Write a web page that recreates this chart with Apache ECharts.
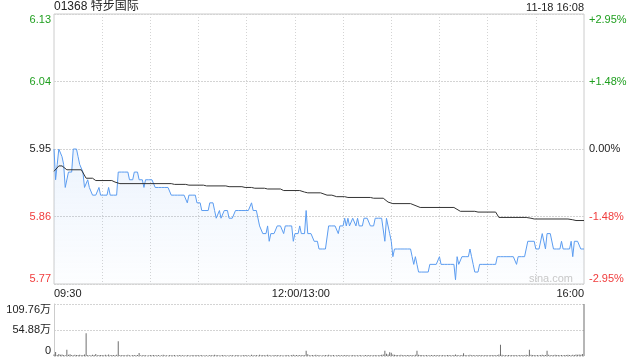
<!DOCTYPE html>
<html><head><meta charset="utf-8">
<script src="https://cdn.jsdelivr.net/npm/echarts@6/dist/echarts.min.js"></script>
<style>html,body{margin:0;padding:0;background:#fff}#c{width:640px;height:360px}</style>
</head><body><div id="c"></div>
<script>
const stockName = '01368 特步国际';
const timeStamp = '11-18 16:08';
const watermark = 'sina.com';
const prevClose = 5.95;
const pctRange = 2.95;
const priceTickLabels = ['5.77', '5.86', '5.95', '6.04', '6.13'];
const pctTickLabels = ['-2.95%', '-1.48%', '0.00%', '+1.48%', '+2.95%'];
const volMax = 109.76;
const volTickLabels = ['0', '54.88万', '109.76万'];
const timeLabels = ['09:30', '12:00/13:00', '16:00'];

// last price, one value per minute (09:30 .. 12:00, 13:01 .. 16:00)
const price = [
  5.95,5.91,5.93,5.95,5.95,5.94,5.93,5.90,5.90,5.92, 5.92,5.92,5.95,5.95,5.95,5.94,5.93,5.93,5.92,5.90, 5.90,5.91,5.90,5.90,5.89,5.89,5.89,5.89,5.90,5.89,
  5.89,5.89,5.89,5.89,5.90,5.89,5.89,5.89,5.89,5.89, 5.92,5.92,5.92,5.92,5.92,5.92,5.92,5.91,5.91,5.91, 5.92,5.92,5.92,5.91,5.91,5.91,5.90,5.91,5.91,5.91,
  5.91,5.91,5.91,5.90,5.90,5.90,5.90,5.90,5.90,5.90, 5.90,5.90,5.90,5.89,5.89,5.89,5.89,5.89,5.89,5.89, 5.89,5.89,5.89,5.88,5.89,5.89,5.89,5.89,5.89,5.88,
  5.88,5.88,5.87,5.87,5.87,5.87,5.87,5.88,5.88,5.88, 5.87,5.86,5.86,5.87,5.86,5.86,5.87,5.87,5.87,5.86, 5.86,5.86,5.86,5.87,5.87,5.87,5.87,5.87,5.87,5.87,
  5.87,5.87,5.87,5.88,5.87,5.87,5.87,5.87,5.85,5.85, 5.84,5.84,5.84,5.85,5.83,5.84,5.84,5.84,5.84,5.85, 5.85,5.85,5.85,5.84,5.85,5.85,5.85,5.85,5.85,5.83,
  5.84,5.84,5.84,5.85,5.84,5.84,5.84,5.87,5.84,5.84, 5.84,5.84,5.83,5.83,5.83,5.82,5.82,5.82,5.82,5.82, 5.82,5.85,5.85,5.85,5.85,5.85,5.85,5.84,5.85,5.85,
  5.85,5.86,5.85,5.86,5.85,5.85,5.86,5.86,5.85,5.86, 5.85,5.85,5.85,5.86,5.86,5.86,5.86,5.85,5.85,5.85, 5.86,5.86,5.86,5.86,5.86,5.86,5.83,5.86,5.86,5.84,
  5.83,5.81,5.82,5.82,5.82,5.82,5.82,5.82,5.82,5.82, 5.82,5.82,5.82,5.81,5.80,5.81,5.80,5.79,5.79,5.79, 5.79,5.79,5.79,5.79,5.80,5.80,5.80,5.80,5.80,5.80,
  5.81,5.80,5.80,5.80,5.80,5.80,5.80,5.80,5.80,5.80, 5.78,5.81,5.80,5.80,5.81,5.81,5.81,5.81,5.81,5.82, 5.81,5.80,5.79,5.79,5.79,5.80,5.80,5.80,5.80,5.80,
  5.80,5.80,5.80,5.80,5.80,5.80,5.81,5.81,5.81,5.81, 5.81,5.81,5.81,5.81,5.81,5.81,5.81,5.81,5.80,5.81, 5.81,5.81,5.81,5.81,5.81,5.83,5.83,5.83,5.83,5.83,
  5.82,5.82,5.82,5.82,5.84,5.84,5.82,5.84,5.84,5.84, 5.84,5.82,5.82,5.82,5.82,5.82,5.83,5.82,5.82,5.82, 5.82,5.82,5.83,5.81,5.83,5.83,5.83,5.83,5.82,5.82,5.82
];

// average price, read at its turning points (minute index, value)
const avgT = [0,3,5,8,17,20,24,26,36,38,39,41,73,75,82,84,93,95,107,109,117,119,123,125,131,133,141,143,153,156,158,166,170,173,176,181,183,197,199,205,208,211,222,228,249,253,262,264,275,277,294,297,299,320,323,325,330];
const avgV = [5.921,5.928,5.928,5.923,5.923,5.912,5.912,5.909,5.909,5.907,5.906,5.905,5.905,5.904,5.904,5.903,5.903,5.902,5.902,5.901,5.901,5.900,5.900,5.899,5.899,5.898,5.898,5.896,5.896,5.894,5.893,5.893,5.890,5.890,5.888,5.888,5.887,5.887,5.886,5.886,5.881,5.879,5.879,5.874,5.874,5.869,5.869,5.868,5.868,5.861,5.861,5.860,5.859,5.859,5.858,5.857,5.857];

// volume per minute, in 万 shares
const volume = [
  3.2,8.5,2.1,4.0,2.6,3.1,2.2,1.8,13.0,2.4, 3.5,2.0,1.6,2.8,2.2,1.9,2.5,1.4,2.0,3.0, 48.0,2.2,1.8,1.5,2.6,2.0,4.2,1.7,2.3,1.9,
  2.1,1.6,2.4,1.8,3.0,1.5,2.2,1.9,1.4,2.6, 31.0,2.0,1.7,2.3,1.5,1.8,2.5,1.6,1.3,2.0, 1.9,1.4,2.2,6.5,1.7,1.5,2.1,1.8,1.2,1.6,
  1.9,1.5,2.3,1.4,1.7,2.0,1.3,1.6,2.4,1.5, 1.8,1.2,2.1,1.6,1.4,1.9,1.3,1.7,2.2,1.5, 1.4,1.8,1.2,2.0,1.6,1.3,1.9,1.5,1.7,2.3,
  1.6,1.4,2.1,1.3,1.8,1.5,1.2,2.0,1.7,1.4, 2.6,1.5,1.9,1.3,1.6,2.2,1.4,1.8,1.2,1.7, 1.5,2.0,1.3,1.6,1.9,1.4,1.2,1.8,1.5,2.1,
  1.4,1.7,1.3,2.4,1.6,1.5,1.9,1.2,2.8,1.8, 2.2,1.5,1.7,2.5,1.4,1.6,1.3,1.9,1.5,2.1, 1.7,1.4,1.8,1.3,1.6,2.0,1.5,1.2,1.9,2.6,
  1.8,2.2,1.6,1.9,1.4,2.3,1.7,11.0,3.5,1.8, 1.5,2.0,1.7,2.4,1.6,1.9,1.3,1.8,1.5,2.1, 1.4,2.6,1.7,1.5,1.9,1.3,1.6,2.0,1.4,1.8,
  1.6,2.2,1.5,1.9,1.3,1.7,2.0,1.4,1.8,1.6, 1.5,2.1,1.3,1.7,1.9,1.4,2.3,1.6,1.8,1.5, 2.0,1.7,1.4,2.2,2.6,3.2,11.0,4.5,3.0,8.0,
  7.0,3.4,2.5,1.9,2.2,1.6,2.4,1.8,2.1,1.5, 1.9,2.3,1.7,2.0,1.6,2.5,11.0,2.8,1.9,2.2, 1.7,1.5,2.0,1.8,1.6,2.2,1.4,1.9,1.7,2.1,
  1.5,1.8,2.0,1.6,1.4,1.9,2.2,1.7,1.5,2.0, 3.4,2.2,1.8,1.6,2.0,6.0,1.9,1.5,1.7,2.4, 1.6,2.0,1.8,1.4,1.9,1.6,2.1,1.5,1.7,1.9,
  1.6,1.8,2.2,1.5,1.9,1.7,2.0,3.0,24.0,2.6, 1.8,2.1,1.6,1.9,1.5,2.3,1.7,2.0,1.8,1.6, 2.2,1.5,1.9,1.7,2.4,2.0,13.0,2.6,1.9,2.2,
  1.8,2.3,1.6,2.0,2.5,1.9,2.2,11.0,2.4,1.8, 2.1,1.7,2.6,1.9,2.0,1.8,2.3,1.6,2.2,1.9, 2.5,2.0,1.8,2.4,2.1,3.0,2.6,3.4,2.8,4.0,109.76
];

const FONT = 'Arial, "Liberation Sans", "Noto Sans CJK SC", sans-serif';
const GREEN = '#1f9f1f', RED = '#f03c3c', DARK = '#222';
const GRIDC = '#d4d4d4';

function hhmm(m) { const h = Math.floor(m / 60), mm = m % 60; return (h < 10 ? '0' : '') + h + ':' + (mm < 10 ? '0' : '') + mm; }
const cats = price.map((_, i) => i <= 150 ? hhmm(570 + i) : hhmm(780 + i - 150));
const toPct = p => (p / prevClose - 1) * 100;
const pctData = price.map(toPct);
const avgData = avgT.map((t, i) => [t, toPct(avgV[i])]);
const step = pctRange / 2;
const tickIdx = v => Math.round((v + pctRange) / step);
const styleKey = k => k < 2 ? 'r' : (k > 2 ? 'g' : 'k');
const richCols = { r: { color: RED }, g: { color: GREEN }, k: { color: DARK } };

const chart = echarts.init(document.getElementById('c'), null, { renderer: 'canvas' });
chart.setOption({
  animation: false,
  textStyle: { fontFamily: FONT },
  title: { text: stockName, left: 54, top: 1, padding: 0,
    textStyle: { fontSize: 12, fontWeight: 'normal', color: DARK, fontFamily: FONT } },
  graphic: [
    { type: 'text', right: 56, top: 2, style: { text: timeStamp, fill: DARK, font: '11px ' + FONT } },
    { type: 'text', right: 67, top: 273, z: 100, style: { text: watermark, fill: '#c8c8c8', font: '11px ' + FONT } }
  ],
  grid: [
    { left: 54, right: 56, top: 14, height: 270, show: true, borderColor: '#cccccc', borderWidth: 1 },
    { left: 54, right: 56, top: 304, height: 52 }
  ],
  xAxis: [
    { type: 'category', gridIndex: 0, data: cats, boundaryGap: false,
      axisLine: { show: false }, axisTick: { show: false },
      splitLine: { show: true, interval: (i) => i % 30 === 0 && i > 0 && i < 330,
        lineStyle: { color: GRIDC, type: [1, 2] } },
      axisLabel: { show: true, interval: (i) => i === 0 || i === 150 || i === 330,
        margin: 4, fontSize: 11, color: DARK, fontFamily: FONT,
        alignMinLabel: 'left', alignMaxLabel: 'right',
        showMinLabel: true, showMaxLabel: true,
        formatter: (v, i) => i === 0 ? timeLabels[0] : (i === 150 ? '{m|' + timeLabels[1] + '}' : timeLabels[2]),
        rich: { m: { padding: [0, 0, 0, 12], fontSize: 11, color: DARK, fontFamily: FONT } } } },
    { type: 'category', gridIndex: 1, data: cats, boundaryGap: false,
      axisLine: { show: false }, axisTick: { show: false }, axisLabel: { show: false }, splitLine: { show: false } }
  ],
  yAxis: [
    { type: 'value', gridIndex: 0, position: 'left', min: -pctRange, max: pctRange, interval: step,
      axisLine: { show: false }, axisTick: { show: false },
      splitLine: { show: true, lineStyle: { color: GRIDC, type: [2, 1] } },
      axisLabel: { margin: 3, fontSize: 11, fontFamily: FONT,
        verticalAlignMinLabel: 'bottom', verticalAlignMaxLabel: 'top',
        formatter: v => { const k = tickIdx(v); return '{' + styleKey(k) + '|' + priceTickLabels[k] + '}'; },
        rich: richCols } },
    { type: 'value', gridIndex: 0, position: 'right', min: -pctRange, max: pctRange, interval: step,
      axisLine: { show: false }, axisTick: { show: false }, splitLine: { show: false },
      axisLabel: { margin: 5, fontSize: 11, fontFamily: FONT,
        verticalAlignMinLabel: 'bottom', verticalAlignMaxLabel: 'top',
        formatter: v => { const k = tickIdx(v); return '{' + styleKey(k) + '|' + pctTickLabels[k] + '}'; },
        rich: richCols } },
    { type: 'value', gridIndex: 1, min: 0, max: volMax, interval: volMax / 2,
      axisLine: { show: true, lineStyle: { color: '#cccccc' } }, axisTick: { show: false },
      splitLine: { show: true, lineStyle: { color: GRIDC, type: [2, 1] } },
      axisLabel: { margin: 3, fontSize: 11, color: DARK, fontFamily: FONT,
        verticalAlignMinLabel: 'bottom', verticalAlignMaxLabel: 'top',
        formatter: v => volTickLabels[Math.round(v / (volMax / 2))] } }
  ],
  series: [
    { type: 'line', xAxisIndex: 0, yAxisIndex: 0, data: pctData, showSymbol: false,
      lineStyle: { color: '#5b9cf0', width: 1 },
      areaStyle: { origin: 'start', color: new echarts.graphic.LinearGradient(0, 0, 0, 1, [
        { offset: 0, color: 'rgba(91,156,240,0.16)' }, { offset: 1, color: 'rgba(91,156,240,0.02)' }]) },
      z: 3 },
    { type: 'line', xAxisIndex: 0, yAxisIndex: 0, data: avgData, showSymbol: false,
      lineStyle: { color: '#333333', width: 1 }, z: 4 },
    { type: 'bar', xAxisIndex: 1, yAxisIndex: 2, data: volume, barWidth: 1,
      itemStyle: { color: '#6e6e6e' } }
  ]
});
</script></body></html>
